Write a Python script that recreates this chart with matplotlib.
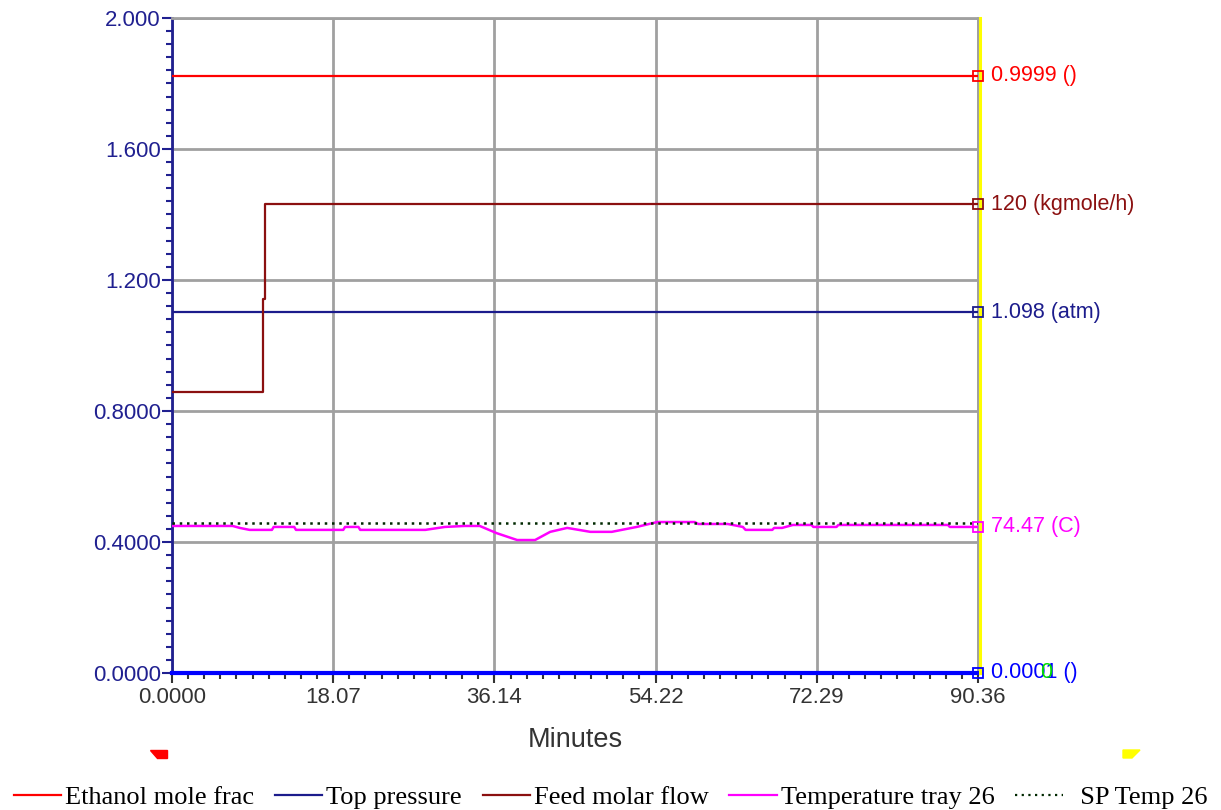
import numpy as np
import matplotlib
matplotlib.use('Agg')
import matplotlib.pyplot as plt
from matplotlib.lines import Line2D
from matplotlib.patches import Polygon
from matplotlib.ticker import MultipleLocator

# x axis (minutes) and tick labels as shown in the trend window
x_ticks = [0.0, 18.07, 36.14, 54.22, 72.29, 90.36]
x_tick_labels = ['0.0000', '18.07', '36.14', '54.22', '72.29', '90.36']
y_ticks = [0.0, 0.4, 0.8, 1.2, 1.6, 2.0]
y_tick_labels = ['0.0000', '0.4000', '0.8000', '1.200', '1.600', '2.000']

# series (all on the same 0-2 scaled axis)
t_flat = [0.0, 90.36]
ethanol = [1.823, 1.823]
pressure = [1.102, 1.102]
sp_temp = [0.458, 0.458]
bottom_flow = [0.001, 0.001]

t_feed = [0.0, 10.2, 10.2, 10.43, 10.43, 90.36]
feed = [0.858, 0.858, 1.142, 1.142, 1.432, 1.432]

t_temp = [0.0, 6.8, 7.6, 8.7, 11.2, 11.4, 13.7, 13.9, 19.2, 19.4, 20.9, 21.1,
          28.4, 30.6, 32.8, 34.5, 36.4, 38.7, 40.7, 42.4, 44.3, 46.9, 49.3,
          52.1, 54.4, 58.6, 59.0, 62.3, 64.0, 64.3, 67.3, 67.5, 68.4, 69.6,
          71.7, 71.9, 74.5, 74.7, 87.0, 87.2, 90.36]
temp26 = [0.449, 0.449, 0.443, 0.437, 0.437, 0.446, 0.446, 0.437, 0.437, 0.446, 0.446, 0.437,
          0.437, 0.446, 0.449, 0.449, 0.427, 0.406, 0.406, 0.431, 0.443, 0.431, 0.431,
          0.446, 0.461, 0.461, 0.455, 0.455, 0.446, 0.437, 0.437, 0.443, 0.443, 0.452,
          0.452, 0.446, 0.446, 0.452, 0.452, 0.446, 0.446]

end_labels = ['0.9999 ()', '120 (kgmole/h)', '1.098 (atm)', '74.47 (C)', '0.0001 ()']

legend_names = ['Ethanol mole frac', 'Top pressure', 'Feed molar flow',
                'Temperature tray 26', '  SP Temp 26']

c_eth = '#ff0000'
c_pres = '#1c1c8c'
c_feed = '#8b1010'
c_temp = '#ff00ff'
c_sp = '#002800'
c_bot = '#0000ff'
navy = '#202090'
grey = '#a0a0a0'

fig = plt.figure(figsize=(12.21, 8.10), dpi=100)
ax = fig.add_axes([172 / 1221, 137 / 810, 806 / 1221, 655 / 810])

ax.set_xlim(0, 90.36)
ax.set_ylim(0, 2.0)
ax.set_xticks(x_ticks)
ax.set_xticklabels(x_tick_labels)
ax.set_yticks(y_ticks)
ax.set_yticklabels(y_tick_labels)
ax.xaxis.set_minor_locator(MultipleLocator(90.36 / 50))
ax.yaxis.set_minor_locator(MultipleLocator(0.04))

tick_font = 'Liberation Sans'
for lab in ax.get_xticklabels() + ax.get_yticklabels():
    lab.set_fontfamily(tick_font)
    lab.set_fontsize(16)

ax.tick_params(axis='y', which='major', direction='out', length=7, width=1.5,
               color=navy, labelcolor=navy, pad=1)
ax.tick_params(axis='y', which='minor', direction='out', length=4, width=1.5, color=navy)
ax.tick_params(axis='x', which='major', direction='out', length=7, width=1.5,
               color='#333333', labelcolor='#333333', pad=3)
ax.tick_params(axis='x', which='minor', direction='out', length=4, width=1.5, color='#333333')

ax.grid(True, which='major', color=grey, lw=2)
ax.set_axisbelow(True)
for side in ['top', 'right', 'bottom']:
    ax.spines[side].set_color(grey)
    ax.spines[side].set_linewidth(2)
ax.spines['left'].set_color(navy)
ax.spines['left'].set_linewidth(2)

ax.set_xlabel('Minutes', fontsize=19.5, fontfamily=tick_font, color='#333333', labelpad=14)

# yellow cursor line just right of the plot
ax.plot([1.003, 1.003], [0, 1.0], transform=ax.transAxes, color='#ffff00', lw=2.2,
        clip_on=False, zorder=5)

ax.plot(t_flat, ethanol, color=c_eth, lw=1.6, zorder=3)
ax.plot(t_flat, pressure, color=c_pres, lw=1.6, zorder=3)
ax.plot(t_feed, feed, color=c_feed, lw=1.6, zorder=3)
ax.plot(t_temp, temp26, color=c_temp, lw=1.8, zorder=3)
ax.plot(t_flat, sp_temp, color=c_sp, lw=1.8, ls=(0, (1, 1.9)), zorder=4)
ax.plot(t_flat, bottom_flow, color=c_bot, lw=3, zorder=4, clip_on=False)

# end markers and value labels
ends = [(ethanol[-1], c_eth), (feed[-1], c_feed), (pressure[-1], c_pres),
        (temp26[-1], c_temp), (bottom_flow[-1], c_bot)]
for (val, col), txt in zip(ends, end_labels):
    ax.plot([t_flat[-1]], [val], marker='s', ms=7, mfc='none', mec=col, mew=1.3,
            clip_on=False, zorder=6)
    ax.annotate(txt, xy=(t_flat[-1], val), xytext=(9, 0), textcoords='offset points',
                va='center', ha='left', color=col, fontsize=15.5, fontfamily=tick_font,
                annotation_clip=False)
ax.annotate('0', xy=(t_flat[-1], bottom_flow[-1]), xytext=(45, 0), textcoords='offset points',
            va='center', ha='left', color='#00dd00', fontsize=15.5, fontfamily=tick_font,
            annotation_clip=False)

# small slider markers below the axis
fig.patches.append(Polygon([[150 / 1221, 1 - 750 / 810], [167 / 1221, 1 - 750 / 810],
                            [167 / 1221, 1 - 758 / 810], [157 / 1221, 1 - 758 / 810]],
                           closed=True, transform=fig.transFigure, color='#ff0000'))
fig.patches.append(Polygon([[1123 / 1221, 1 - 750 / 810], [1140 / 1221, 1 - 750 / 810],
                            [1132 / 1221, 1 - 758 / 810], [1123 / 1221, 1 - 758 / 810]],
                           closed=True, transform=fig.transFigure, color='#ffff00'))

handles = [Line2D([], [], color=c_eth, lw=1.6),
           Line2D([], [], color=c_pres, lw=1.6),
           Line2D([], [], color=c_feed, lw=1.6),
           Line2D([], [], color=c_temp, lw=1.6),
           Line2D([], [], color=c_sp, lw=1.6, ls=(0, (1, 2)))]
fig.legend(handles, legend_names, loc='center', bbox_to_anchor=(0.5, 13 / 810), ncol=5,
           frameon=False, prop={'family': 'Liberation Serif', 'size': 19},
           handlelength=1.8, handletextpad=0.15, columnspacing=0.78, borderpad=0)

fig.savefig('out.png', dpi=100)
